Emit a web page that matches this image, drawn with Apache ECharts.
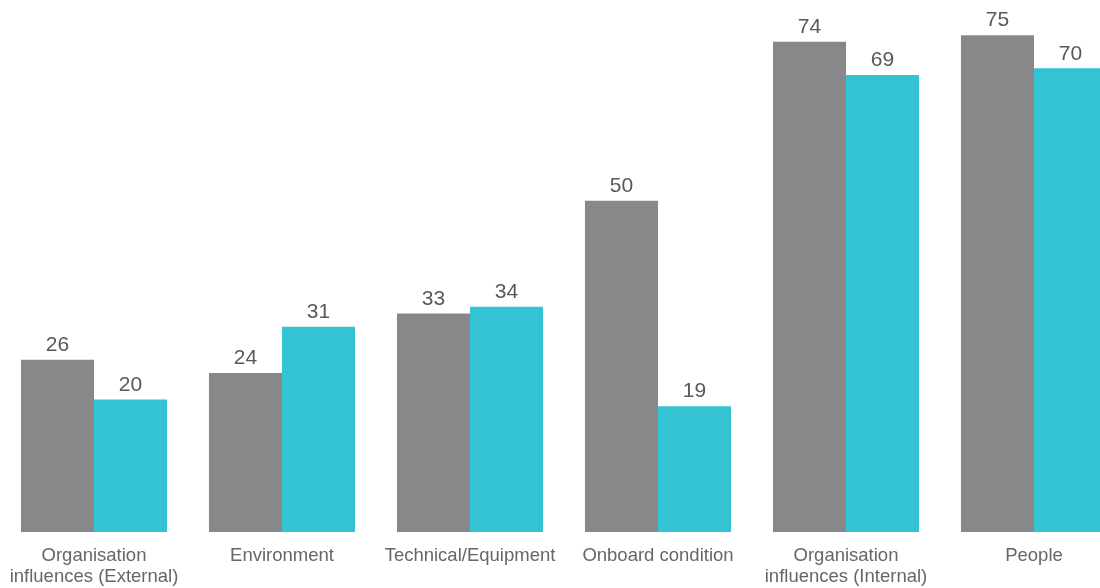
<!DOCTYPE html>
<html>
<head>
<meta charset="utf-8">
<script src="https://cdn.jsdelivr.net/npm/echarts@6/dist/echarts.min.js"></script>
<style>
  html, body { margin: 0; padding: 0; background: #fff; overflow: hidden; width: 1100px; height: 588px; }
  #chart { width: 1128px; height: 588px; }
</style>
</head>
<body>
<div id="chart"></div>
<script>
// Contributing factor categories
const categories = [
  'Organisation\ninfluences (External)',
  'Environment',
  'Technical/Equipment',
  'Onboard condition',
  'Organisation\ninfluences (Internal)',
  'People'
];
// Two series of counts per category
const seriesA = [26, 24, 33, 50, 74, 75];
const seriesB = [20, 31, 34, 19, 69, 70];

const chart = echarts.init(document.getElementById('chart'));

const labelStyle = {
  show: true,
  position: 'top',
  distance: 4,
  color: '#595959',
  fontFamily: 'Liberation Sans, Arial, sans-serif',
  fontSize: 21
};

chart.setOption({
  animation: false,
  grid: { left: 0, right: 0, top: 2, bottom: 56, outerBoundsMode: 'none', containLabel: false },
  xAxis: {
    type: 'category',
    data: categories,
    axisLine: { show: false },
    axisTick: { show: false },
    axisLabel: {
      interval: 0,
      margin: 13,
      color: '#666666',
      fontFamily: 'Liberation Sans, Arial, sans-serif',
      fontSize: 18.5,
      lineHeight: 21
    }
  },
  yAxis: {
    type: 'value',
    min: 0,
    max: 80,
    show: false,
    splitLine: { show: false }
  },
  series: [
    {
      type: 'bar',
      data: seriesA,
      barGap: '0%',
      barCategoryGap: '22.3%',
      itemStyle: { color: '#88888a' },
      label: labelStyle
    },
    {
      type: 'bar',
      data: seriesB,
      barGap: '0%',
      barCategoryGap: '22.3%',
      itemStyle: { color: '#33c3d3' },
      label: labelStyle
    }
  ]
});
</script>
</body>
</html>
